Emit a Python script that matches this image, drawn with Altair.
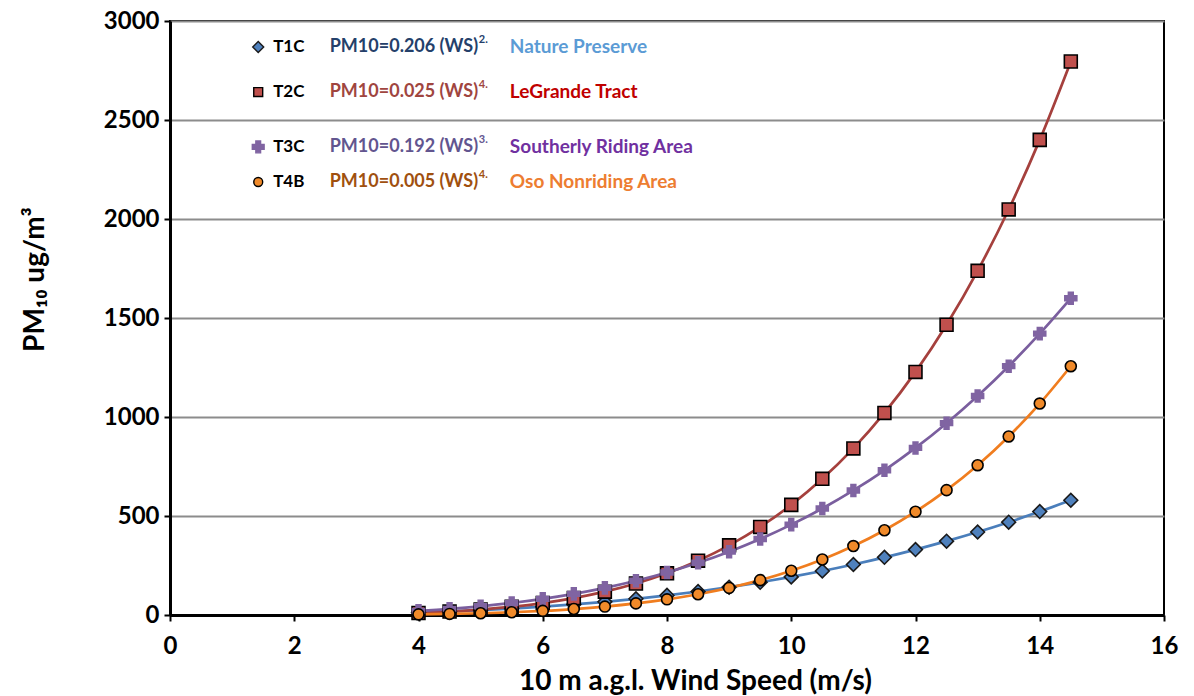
import altair as alt
import pandas as pd

# ---------------- data ----------------
wind_speed = [4.0, 4.5, 5.0, 5.5, 6.0, 6.5, 7.0, 7.5, 8.0, 8.5, 9.0, 9.5,
              10.0, 10.5, 11.0, 11.5, 12.0, 12.5, 13.0, 13.5, 14.0, 14.5]

t1c = [12.6, 17.9, 24.5, 32.6, 42.2, 53.5, 66.6, 81.8, 99.1, 118.7, 140.6, 165.1,
       192.3, 222.3, 255.2, 291.2, 330.4, 372.9, 419.0, 468.8, 522.3, 579.5]
t2c = [10.4, 17.3, 27.3, 41.4, 60.4, 85.4, 117.9, 159.1, 210.7, 274.3, 351.7, 444.9,
       556.2, 687.7, 841.3, 1020.5, 1227.8, 1466.0, 1738.3, 2048.2, 2399.6, 2795.4]
t3c = [20.7, 30.8, 43.9, 60.6, 81.4, 106.6, 136.9, 172.8, 214.8, 263.7, 319.8, 383.8,
       456.4, 537.9, 629.1, 730.8, 843.8, 968.8, 1106.0, 1256.7, 1421.1, 1599.4]
t4b = [3.2, 5.5, 8.9, 13.9, 20.8, 30.1, 42.5, 58.6, 79.1, 104.9, 136.8, 176.0,
       223.4, 280.4, 348.2, 428.2, 521.6, 630.6, 756.6, 901.8, 1067.9, 1256.6]

series_names = ["T1C", "T2C", "T3C", "T4B"]
series_values = [t1c, t2c, t3c, t4b]
formulas = ["PM10=0.206 (WS)", "PM10=0.025 (WS)", "PM10=0.192 (WS)", "PM10=0.005 (WS)"]
exponents = ["2.", "4.", "3.", "4."]
sites = ["Nature Preserve", "LeGrande Tract", "Southerly Riding Area", "Oso Nonriding Area"]

x_ticks = [0, 2, 4, 6, 8, 10, 12, 14, 16]
y_ticks = [0, 500, 1000, 1500, 2000, 2500, 3000]

# ---------------- styles ----------------
FONT = "Lato"
shapes = ["diamond", "square", "cross", "circle"]
line_colors = ["#4A7EBB", "#A5403D", "#7A5E9E", "#F07D1F"]
fill_colors = ["#4F81BD", "#C0504D", "#8064A2", "#F08A2A"]
stroke_colors = ["#1A1A1A", "#000000", "#8064A2", "#000000"]
marker_sizes = [190, 120, 170, 120]
formula_colors = ["#24406A", "#A0453F", "#62558F", "#A0500F"]
site_colors = ["#5B9BD5", "#C00000", "#7030A0", "#ED7D31"]
legend_sizes = [120, 80, 140, 80]

# legend layout (in data units of the shared scales)
leg_rows_y = [2869, 2641, 2364, 2187]
leg_sym_x = 1.42
leg_name_x = 1.66
leg_formula_right_x = 4.96
leg_exp_x = 4.97
leg_site_x = 5.47

rows = []
for name, vals in zip(series_names, series_values):
    for ws, v in zip(wind_speed, vals):
        rows.append({"series": name, "ws": ws, "pm": v})
df = pd.DataFrame(rows)

x_enc = alt.X(
    "ws:Q",
    scale=alt.Scale(domain=[0, 16], nice=False, zero=False),
    axis=alt.Axis(
        values=x_ticks, format="d", title="10 m a.g.l. Wind Speed (m/s)", grid=False,
        domainColor="black", domainWidth=3, tickColor="black", tickWidth=2, tickSize=6,
        labelFont=FONT, labelFontSize=24, labelFontWeight="bold", labelColor="black",
        labelPadding=13, labelFlush=False,
        titleFont=FONT, titleFontSize=28, titleFontWeight="bold", titleColor="black",
        titleX=525, titleY=74, titleBaseline="alphabetic", titleAlign="center",
    ),
)
y_enc = alt.Y(
    "pm:Q",
    scale=alt.Scale(domain=[0, 3000], nice=False),
    axis=alt.Axis(
        values=y_ticks, format="d", title="PM₁₀ ug/m³", grid=True, gridColor="#8C8C8C", gridWidth=2,
        domainColor="black", domainWidth=3, tickColor="black", tickWidth=2, tickSize=6,
        labelFont=FONT, labelFontSize=24, labelFontWeight="bold", labelColor="black",
        labelPadding=5,
        titleFont=FONT, titleFontSize=28, titleFontWeight="bold", titleColor="black",
        titleAngle=270, titleX=-127, titleY=258, titleAlign="center",
        titleBaseline="alphabetic",
    ),
)

lines = alt.Chart(df).mark_line(interpolate="monotone", strokeWidth=2.7).encode(
    x=x_enc,
    y=y_enc,
    color=alt.Color("series:N", scale=alt.Scale(domain=series_names, range=line_colors), legend=None),
)

points = alt.Chart(df).mark_point(filled=True, strokeWidth=1.6, opacity=1).encode(
    x="ws:Q",
    y="pm:Q",
    shape=alt.Shape("series:N", scale=alt.Scale(domain=series_names, range=shapes), legend=None),
    fill=alt.Fill("series:N", scale=alt.Scale(domain=series_names, range=fill_colors), legend=None),
    stroke=alt.Stroke("series:N", scale=alt.Scale(domain=series_names, range=stroke_colors), legend=None),
    size=alt.Size("series:N", scale=alt.Scale(domain=series_names, range=marker_sizes), legend=None),
)

layers = [lines, points]

for i in range(4):
    ly = leg_rows_y[i]
    layers.append(
        alt.Chart().mark_point(shape=shapes[i], filled=True, fill=fill_colors[i],
                               stroke=stroke_colors[i], strokeWidth=1.4, opacity=1,
                               size=legend_sizes[i]).encode(
            x=alt.datum(leg_sym_x), y=alt.datum(ly))
    )
    layers.append(
        alt.Chart().mark_text(text=series_names[i], align="left", baseline="middle",
                              font=FONT, fontSize=17, fontWeight="bold", color="black").encode(
            x=alt.datum(leg_name_x), y=alt.datum(ly))
    )
    layers.append(
        alt.Chart().mark_text(text=formulas[i], align="right", baseline="middle",
                              font=FONT, fontSize=18, fontWeight="bold", color=formula_colors[i]).encode(
            x=alt.datum(leg_formula_right_x), y=alt.datum(ly))
    )
    layers.append(
        alt.Chart().mark_text(text=exponents[i], align="left", baseline="middle", dy=-7,
                              font=FONT, fontSize=11, fontWeight="bold", color=formula_colors[i]).encode(
            x=alt.datum(leg_exp_x), y=alt.datum(ly))
    )
    layers.append(
        alt.Chart().mark_text(text=sites[i], align="left", baseline="middle",
                              font=FONT, fontSize=19, fontWeight="bold", color=site_colors[i]).encode(
            x=alt.datum(leg_site_x), y=alt.datum(ly))
    )

chart = alt.layer(*layers).properties(
    width=994,
    height=594,
    autosize=alt.AutoSizeParams(type="none"),
    padding={"left": 162, "top": 13, "right": 20, "bottom": 80},
    background="white",
).configure_view(stroke="black", strokeWidth=2)

chart.save("out.html", embed_options={"renderer": "svg", "actions": False})
